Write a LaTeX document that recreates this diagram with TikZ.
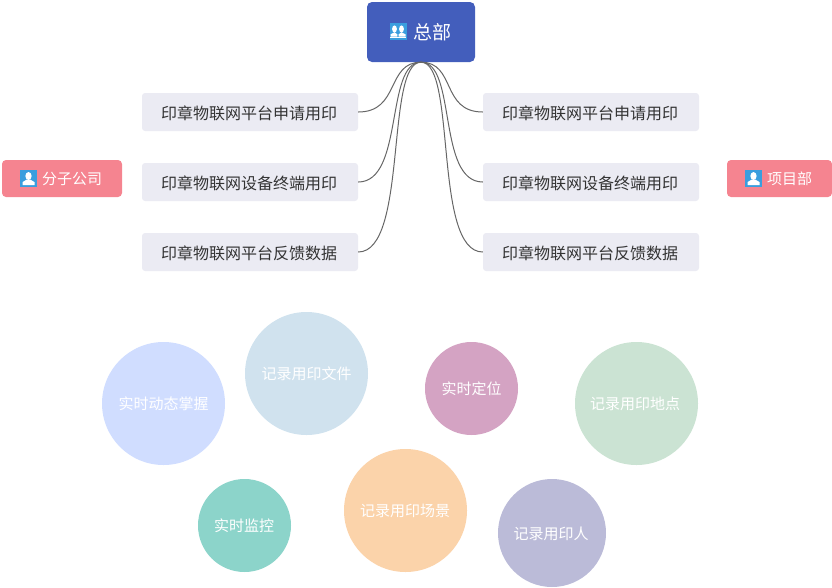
\documentclass[tikz,border=0pt]{standalone}
\usepackage{fontspec}
\setmainfont{Noto Sans CJK SC}
\usetikzlibrary{calc}
\definecolor{headc}{HTML}{435EBC}
\definecolor{pinkc}{HTML}{F58490}
\definecolor{boxc}{HTML}{EBEBF3}
\definecolor{iconc}{HTML}{3A9EDE}
\definecolor{linec}{HTML}{666666}
\definecolor{txtc}{HTML}{333333}
\definecolor{ca}{HTML}{D0DDFF}
\definecolor{cb}{HTML}{D0E2EE}
\definecolor{cc}{HTML}{D4A3C3}
\definecolor{cd}{HTML}{CBE3D3}
\definecolor{ce}{HTML}{8CD4CA}
\definecolor{cf}{HTML}{FBD3AA}
\definecolor{cg}{HTML}{BBBBD8}
\tikzset{
  x=1pt,y=-1pt,
  itembox/.style={fill=boxc,rounded corners=3pt,minimum width=216pt,minimum height=38pt,inner sep=0pt},
  itemtxt/.style={inner sep=0pt,text=txtc,font=\fontsize{16}{16}\selectfont},
  pinkbox/.style={fill=pinkc,rounded corners=4pt,minimum height=37pt,inner sep=0pt},
  headbox/.style={fill=headc,rounded corners=5pt,minimum width=108pt,minimum height=60pt,inner sep=0pt},
  lbl/.style={inner sep=0pt,text=white,anchor=west},
  bubble/.style={circle,inner sep=0pt},
  bubtxt/.style={inner sep=0pt,text=white,font=\fontsize{15}{15}\selectfont},
  iconbox/.style={fill=iconc,minimum size=17pt,inner sep=0pt},
  link/.style={draw=linec,line width=1pt},
}
\newcommand{\personicon}[1]{%
  \fill[white] ($(#1)+(0,-2.5)$) ellipse [x radius=3.1pt,y radius=4pt];
  \fill[white] ($(#1)+(-6,6.5)$) -- ($(#1)+(-6,3.6)$) -- ($(#1)+(-2,1.2)$) -- ($(#1)+(2,1.2)$) -- ($(#1)+(6,3.6)$) -- ($(#1)+(6,6.5)$) -- cycle;
}
\newcommand{\groupicon}[1]{%
  \fill[white] ($(#1)+(-3.5,-2.5)$) ellipse [x radius=2.4pt,y radius=3.6pt];
  \fill[white] ($(#1)+(3.5,-2.5)$) ellipse [x radius=2.4pt,y radius=3.6pt];
  \fill[white] ($(#1)+(-7.5,5)$) -- ($(#1)+(-7.5,2.8)$) -- ($(#1)+(-3.5,0.8)$) -- ($(#1)+(-0.6,2.8)$) -- ($(#1)+(-0.6,5)$) -- cycle;
  \fill[white] ($(#1)+(0.6,5)$) -- ($(#1)+(0.6,2.8)$) -- ($(#1)+(3.5,0.8)$) -- ($(#1)+(7.5,2.8)$) -- ($(#1)+(7.5,5)$) -- cycle;
  \fill[white] ($(#1)+(-8,5.6)$) rectangle ($(#1)+(8,6.6)$);
}
\begin{document}
\begin{tikzpicture}
\useasboundingbox (0,0) rectangle (832,587);
% head
\node[headbox] (hq) at (421,32) {};
\node[iconbox] (hqi) at (398,31.5) {};
\groupicon{hqi}
\node[lbl,font=\fontsize{19}{19}\selectfont] (hqt) at (413,32.5) {总部};
% left items
\node[itembox] (l1) at (250,112) {};
\node[itembox] (l2) at (250,182) {};
\node[itembox] (l3) at (250,252) {};
% right items
\node[itembox] (r1) at (591,112) {};
\node[itembox] (r2) at (591,182) {};
\node[itembox] (r3) at (591,252) {};
\node[itemtxt] (l1t) at (249,113) {印章物联网平台申请用印};
\node[itemtxt] (l2t) at (249,183) {印章物联网设备终端用印};
\node[itemtxt] (l3t) at (249,253) {印章物联网平台反馈数据};
\node[itemtxt] (r1t) at (590,113) {印章物联网平台申请用印};
\node[itemtxt] (r2t) at (590,183) {印章物联网设备终端用印};
\node[itemtxt] (r3t) at (590,253) {印章物联网平台反馈数据};
% connectors
\draw[link] (hq.south) .. controls +(-35,0) and +(42,0) .. (l1.east);
\draw[link] (hq.south) .. controls +(-36,0) and +(46,0) .. (l2.east);
\draw[link] (hq.south) .. controls +(-36,0) and +(50,0) .. (l3.east);
\draw[link] (hq.south) .. controls +(35,0) and +(-42,0) .. (r1.west);
\draw[link] (hq.south) .. controls +(36,0) and +(-46,0) .. (r2.west);
\draw[link] (hq.south) .. controls +(36,0) and +(-50,0) .. (r3.west);
% pink boxes
\node[pinkbox,minimum width=120pt] (fz) at (62,178.5) {};
\node[iconbox] (fzi) at (28.5,178.5) {};
\personicon{fzi}
\node[lbl,font=\fontsize{15}{15}\selectfont] (fzt) at (42,179) {分子公司};
\node[pinkbox,minimum width=105pt] (xm) at (779.5,178.5) {};
\node[iconbox] (xmi) at (753.5,178.5) {};
\personicon{xmi}
\node[lbl,font=\fontsize{15}{15}\selectfont] (xmt) at (767,179) {项目部};
% bubbles
\node[bubble,fill=ca,minimum size=123pt] (b1) at (163.5,403.5) {};
\node[bubble,fill=cb,minimum size=123pt] (b2) at (306.5,373.5) {};
\node[bubble,fill=cc,minimum size=93pt] (b3) at (471.5,388.5) {};
\node[bubble,fill=cd,minimum size=123pt] (b4) at (636.5,403.5) {};
\node[bubble,fill=ce,minimum size=93pt] (b5) at (244.5,525.5) {};
\node[bubble,fill=cf,minimum size=123pt] (b6) at (405.5,510.5) {};
\node[bubble,fill=cg,minimum size=108pt] (b7) at (552,533) {};
\node[bubtxt] (b1t) at (163.5,404) {实时动态掌握};
\node[bubtxt] (b2t) at (306.5,374) {记录用印文件};
\node[bubtxt] (b3t) at (471.5,389) {实时定位};
\node[bubtxt] (b4t) at (635,404) {记录用印地点};
\node[bubtxt] (b5t) at (244,526) {实时监控};
\node[bubtxt] (b6t) at (405,511) {记录用印场景};
\node[bubtxt] (b7t) at (551,533.5) {记录用印人};
\end{tikzpicture}
\end{document}
